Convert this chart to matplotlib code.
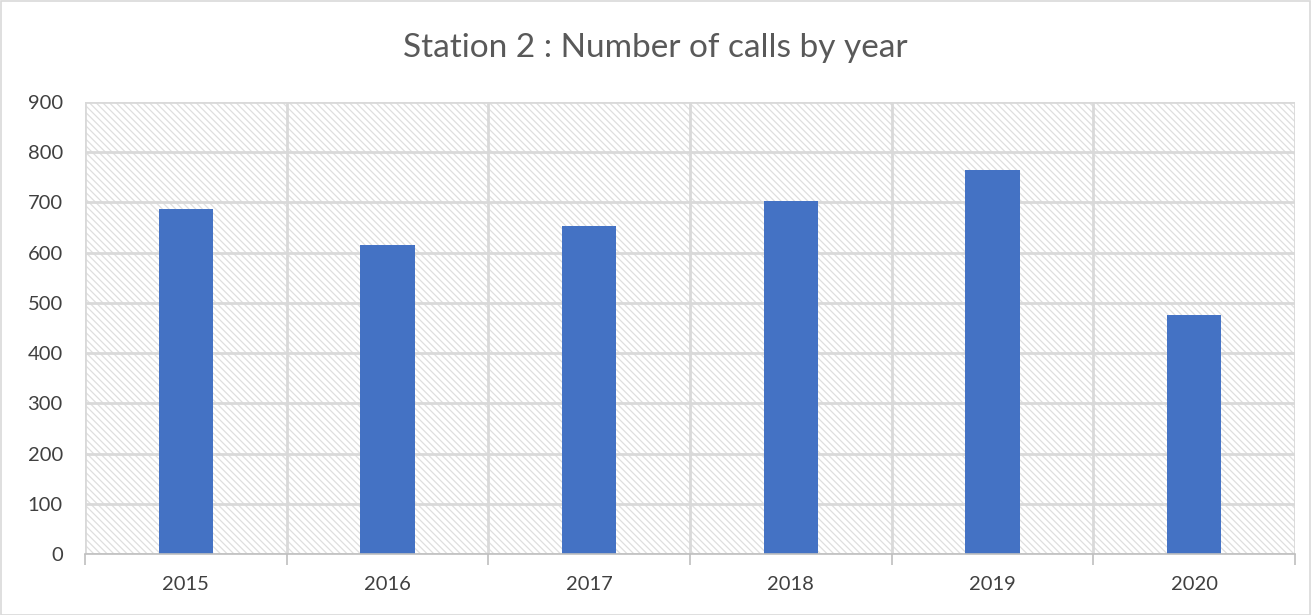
import matplotlib
matplotlib.use("Agg")
import matplotlib.pyplot as plt
from matplotlib.patches import Rectangle
import numpy as np

years = ["2015", "2016", "2017", "2018", "2019", "2020"]
calls = [687, 615, 654, 703, 765, 476]
y_ticks = [0, 100, 200, 300, 400, 500, 600, 700, 800, 900]

plt.rcParams['font.family'] = ['Lato', 'DejaVu Sans']
plt.rcParams['hatch.color'] = '#dedede'
plt.rcParams['hatch.linewidth'] = 0.9

fig = plt.figure(figsize=(13.11, 6.15), dpi=100)
ax = fig.add_axes([85/1311, 1-554/615, (1295-85)/1311, (554-102)/615])

ax.set_facecolor('white')
ax.patch.set_hatch('\\\\\\\\\\')
ax.patch.set_edgecolor('#dedede')
ax.patch.set_linewidth(0)

x = np.arange(len(years))
ax.bar(x, calls, width=0.27, color='#4472C4', zorder=3)

ax.set_xlim(-0.5, len(years) - 0.5)
ax.set_ylim(0, 900)
ax.set_yticks(y_ticks)
ax.set_yticklabels([str(v) for v in y_ticks])
ax.set_xticks(x)
ax.set_xticklabels(years)
ax.set_xticks(np.arange(len(years) + 1) - 0.5, minor=True)

ax.grid(axis='y', color='#d9d9d9', linewidth=2, zorder=1)
ax.grid(axis='x', which='minor', color='#d9d9d9', linewidth=2, zorder=1)
ax.grid(axis='x', which='major', visible=False)
ax.set_axisbelow(True)

for s in ['top', 'right', 'left']:
    ax.spines[s].set_visible(False)
ax.spines['bottom'].set_color('#bfbfbf')
ax.spines['bottom'].set_linewidth(1.2)
ax.spines['bottom'].set_zorder(4)

ax.tick_params(axis='x', which='major', length=0, labelsize=14.5, labelcolor='#404040', pad=16)
ax.tick_params(axis='x', which='minor', length=8, color='#bfbfbf', width=1.2)
ax.tick_params(axis='y', length=0, labelsize=14.5, labelcolor='#404040', pad=16)

fig.text(0.5, 1 - 48/615, "Station 2 : Number of calls by year", ha='center', va='center',
         fontsize=24, color='#595959')

fig.patches.append(Rectangle((0.5/1311, 0.5/615), 1 - 1.5/1311, 1 - 1.5/615, transform=fig.transFigure,
                             fill=False, edgecolor='#d9d9d9', linewidth=1.2))

fig.savefig("out.png", dpi=100)
